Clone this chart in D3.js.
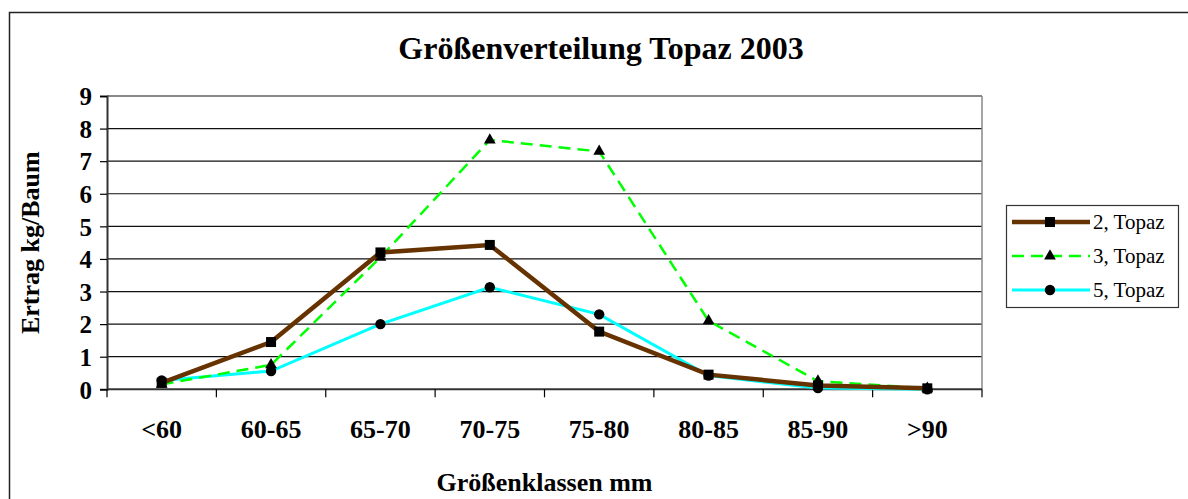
<!DOCTYPE html>
<html>
<head>
<meta charset="utf-8">
<script src="https://cdn.jsdelivr.net/npm/d3@7"></script>
<style>
body{margin:0;background:#fff;}
</style>
</head>
<body>
<svg id="chart"></svg>
<script>
// Größenverteilung Topaz 2003 - Ertrag je Größenklasse
var categories=["<60","60-65","65-70","70-75","75-80","80-85","85-90",">90"]
var topaz2=[0.2,1.45,4.2,4.43,1.77,0.45,0.12,0.03]
var topaz3=[0.15,0.75,4.05,7.65,7.3,2.1,0.25,0.03]
var topaz5=[0.27,0.56,2.0,3.13,2.3,0.42,0.04,0.0]
var seriesNames=["2, Topaz","3, Topaz","5, Topaz"]
var yTicks=[0,1,2,3,4,5,6,7,8,9]

var font="'Liberation Serif','Times New Roman',serif"
var screen={width:1188,height:499}
var plot={left:107,right:982,top:96,bottom:389.3}

var svg=d3.select("#chart")
    .attr("width",screen.width)
    .attr("height",screen.height)

// outer frame (runs off right + bottom)
svg.append("path")
    .attr("d","M9.5,"+(screen.height+5)+"V12.5H"+(screen.width+5))
    .style("fill","none")
    .style("stroke","#222")
    .style("stroke-width",1.5)

var x=d3.scaleBand().domain(categories).range([plot.left,plot.right])
var y=d3.scaleLinear().domain([0,9]).range([plot.bottom,plot.top])

//gridlines
svg.append("g").selectAll("line").data(yTicks.slice(1)).enter()
    .append("line")
    .attr("x1",plot.left).attr("x2",plot.right)
    .attr("y1",function(d){return y(d)}).attr("y2",function(d){return y(d)})
    .style("stroke",function(d){return d==9?"#888":"#111"})
    .style("stroke-width",function(d){return d==9?2:1.2})

// right border of plot
svg.append("line")
    .attr("x1",plot.right).attr("x2",plot.right)
    .attr("y1",plot.top).attr("y2",plot.bottom)
    .style("stroke","#888").style("stroke-width",1.5)

// y axis
var yAxis=d3.axisLeft(y).tickValues(yTicks).tickSize(7).tickPadding(8).tickFormat(d3.format("d"))
var gy=svg.append("g").attr("transform","translate("+plot.left+",0)").call(yAxis)
    .attr("font-family",font).attr("font-size",null)
gy.select(".domain").style("stroke","#333").style("stroke-width",2)
gy.selectAll(".tick line").style("stroke","#000").style("stroke-width",1.2)
gy.selectAll("text")
    .style("font-family",font).style("font-size","25px").style("font-weight","bold")
    .attr("dy","0.35em")

// x axis, ticks on the category edges
var edges=categories.map(function(c){return x(c)}).concat([plot.right])
svg.append("line")
    .attr("x1",plot.left).attr("x2",plot.right)
    .attr("y1",plot.bottom).attr("y2",plot.bottom)
    .style("stroke","#333").style("stroke-width",2)
svg.append("g").selectAll("line").data(edges).enter()
    .append("line")
    .attr("x1",function(d){return d}).attr("x2",function(d){return d})
    .attr("y1",plot.bottom).attr("y2",plot.bottom+8)
    .style("stroke","#000").style("stroke-width",1.2)
svg.append("g").selectAll("text").data(categories).enter()
    .append("text")
    .attr("x",function(d){return x(d)+x.bandwidth()/2})
    .attr("y",438)
    .attr("text-anchor","middle")
    .style("font-family",font).style("font-size","26px").style("font-weight","bold")
    .text(function(d){return d})

// titles
svg.append("text").attr("x",601).attr("y",59).attr("text-anchor","middle")
    .style("font-family",font).style("font-size","32px").style("font-weight","bold")
    .text("Größenverteilung Topaz 2003")
svg.append("text").attr("x",(plot.left+plot.right)/2).attr("y",491).attr("text-anchor","middle")
    .style("font-family",font).style("font-size","26px").style("font-weight","bold")
    .text("Größenklassen mm")
svg.append("text")
    .attr("transform","translate(39,"+((plot.top+plot.bottom)/2)+") rotate(-90)")
    .attr("text-anchor","middle")
    .style("font-family",font).style("font-size","26px").style("font-weight","bold")
    .text("Ertrag kg/Baum")

var styles=[
    {values:topaz2,color:"#663300",width:4.5,dash:null,symbol:d3.symbolSquare,size:100},
    {values:topaz3,color:"#00ff00",width:2.5,dash:"12,7",symbol:d3.symbolTriangle,size:60},
    {values:topaz5,color:"#00ffff",width:3,dash:null,symbol:d3.symbolCircle,size:85}
]

var line=d3.line()
    .x(function(d,i){return x(categories[i])+x.bandwidth()/2})
    .y(function(d){return y(d)})

var drawSeries=function(s){
    svg.append("path").datum(s.values)
        .attr("d",line)
        .style("fill","none")
        .style("stroke",s.color)
        .style("stroke-width",s.width)
        .style("stroke-dasharray",s.dash)
    svg.append("g").selectAll("path").data(s.values).enter()
        .append("path")
        .attr("d",d3.symbol().type(s.symbol).size(s.size))
        .attr("transform",function(d,i){
            return "translate("+(x(categories[i])+x.bandwidth()/2)+","+y(d)+")"})
        .style("fill","#000")
}
// draw in reverse so brown ends on top like excel
drawSeries(styles[2])
drawSeries(styles[1])
drawSeries(styles[0])

//legend
var legend=svg.append("g").attr("transform","translate(1006,205)")
legend.append("rect").attr("x",0.5).attr("y",0.5).attr("width",172).attr("height",102)
    .style("fill","#fff").style("stroke","#333").style("stroke-width",1.2)
var rows=legend.selectAll(".row").data(styles).enter()
    .append("g").attr("class","row")
    .attr("transform",function(d,i){return "translate(0,"+(17+i*34)+")"})
rows.append("line").attr("x1",6).attr("x2",84).attr("y1",0).attr("y2",0)
    .style("stroke",function(d){return d.color})
    .style("stroke-width",function(d){return d.width})
    .style("stroke-dasharray",function(d){return d.dash})
rows.append("path")
    .attr("d",function(d){return d3.symbol().type(d.symbol).size(d.size)()})
    .attr("transform","translate(44,0)")
    .style("fill","#000")
rows.append("text").attr("x",87).attr("y",7)
    .style("font-family",font).style("font-size","21px")
    .text(function(d,i){return seriesNames[i]})
</script>
</body>
</html>
